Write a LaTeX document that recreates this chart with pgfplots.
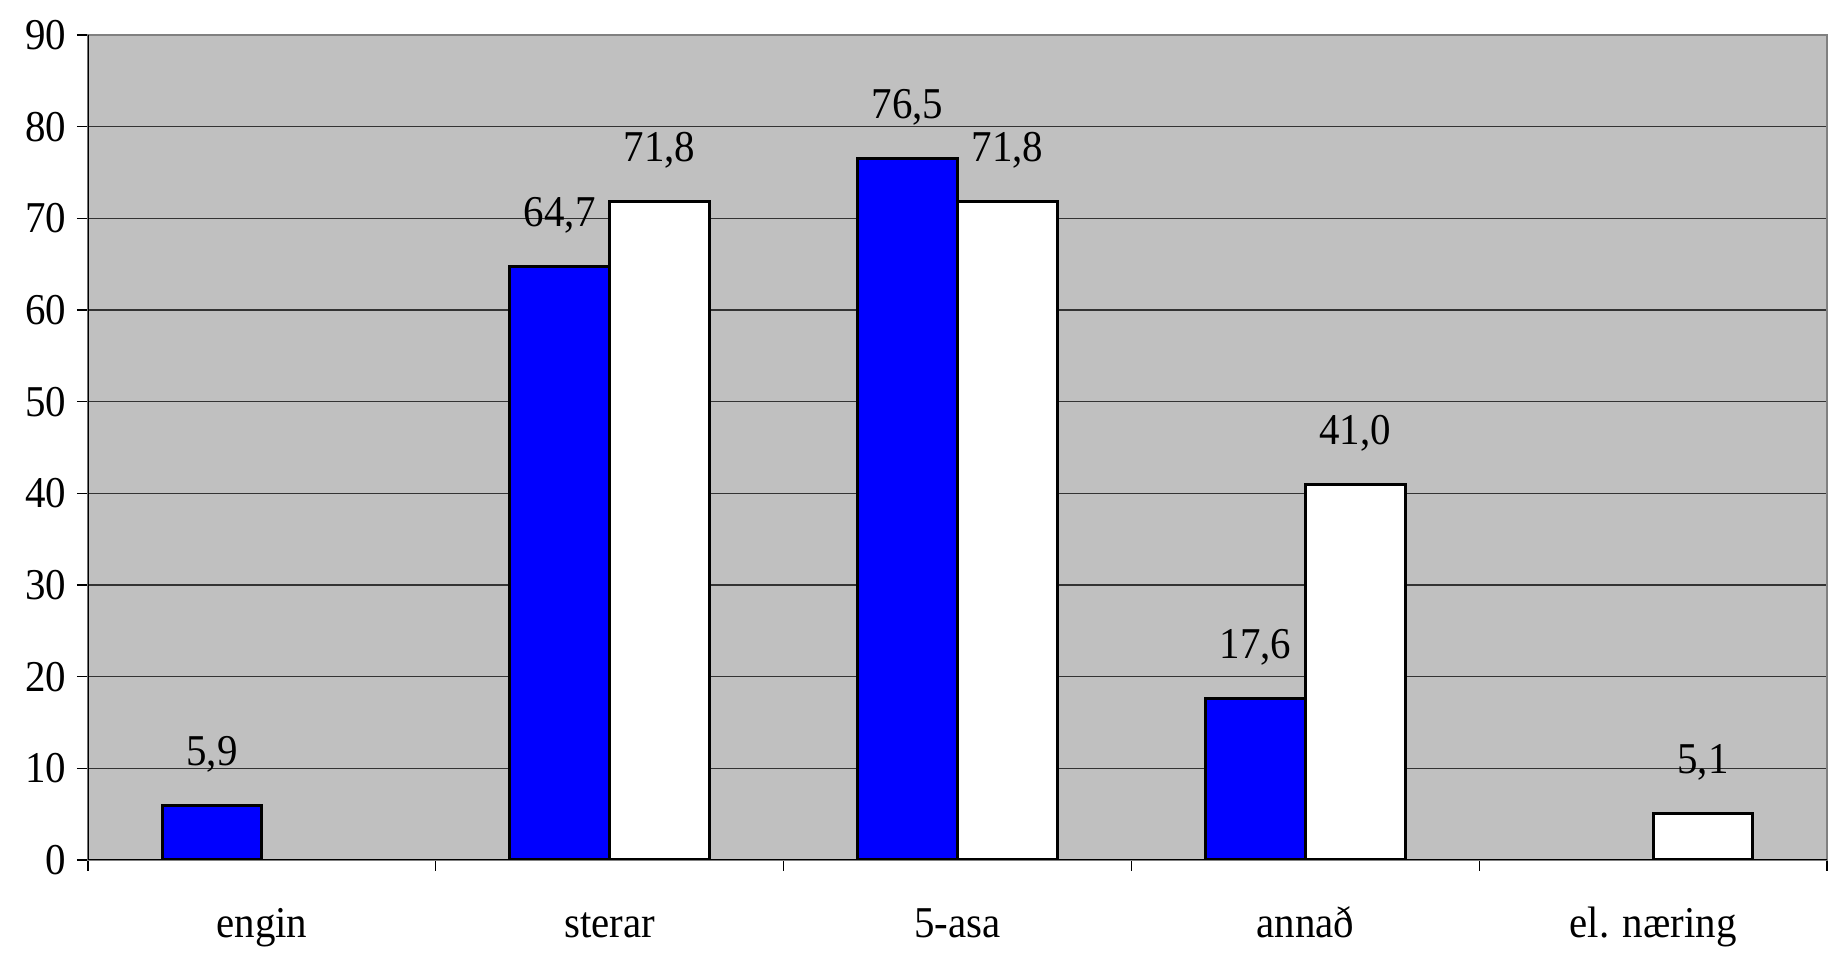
\documentclass[border=0pt]{standalone}
\usepackage{fontspec}
\setmainfont{Liberation Serif}[FakeStretch=0.93]
\usepackage{pgfplots}
\pgfplotsset{compat=1.18}
\definecolor{plotbg}{RGB}{192,192,192}
\definecolor{framegray}{RGB}{128,128,128}
\definecolor{barblue}{RGB}{0,0,255}
\begin{document}
\begin{tikzpicture}
\begin{axis}[
  scale only axis,
  width=869.5pt, height=412.5pt,
  xmin=-0.5, xmax=4.5, ymin=0, ymax=90,
  ybar=0pt, bar width=0.287,
  axis background/.style={fill=plotbg},
  axis line style={draw=framegray, line width=1.2pt},
  xtick pos=left, ytick pos=left,
  xtick={-0.5,0.5,1.5,2.5,3.5,4.5},
  xticklabels={,,,,,},
  extra x ticks={0,1,2,3,4},
  extra x tick labels={engin, sterar, 5-asa, annað, el. næring},
  extra x tick style={major tick length=0pt, grid=none,
     xticklabel style={anchor=base, yshift=-39pt}},
  ytick={0,10,...,90},
  ymajorgrids,
  major grid style={black!80, line width=0.6pt},
  tick align=outside,
  major tick length=5.5pt,
  tick style={black, line width=0.6pt},
  ticklabel style={font=\fontsize{22}{26}\selectfont},
  yticklabel style={anchor=east, xshift=-2pt},
  /pgf/number format/assume math mode=true,
  nodes near coords,
  nodes near coords style={font=\fontsize{22}{26}\selectfont, anchor=base, yshift=20pt, black,
    /pgf/number format/.cd, fixed, fixed zerofill, precision=1, use comma, assume math mode=true},
]
\addplot[fill=barblue, draw=black, line width=1.5pt] coordinates {(0,5.9) (1,64.7) (2,76.5) (3,17.6)};
\addplot[fill=white, draw=black, line width=1.5pt] coordinates {(1,71.8) (2,71.8) (3,41.0) (4,5.1)};
\draw[black, line width=1.2pt] (rel axis cs:0,1) -- (rel axis cs:0,0) -- (rel axis cs:1,0);
\end{axis}
\pgfresetboundingbox
\path[use as bounding box] (current axis.south west) ++(-44pt,-48pt) rectangle ++(919.5pt,478pt);
\end{tikzpicture}
\end{document}
